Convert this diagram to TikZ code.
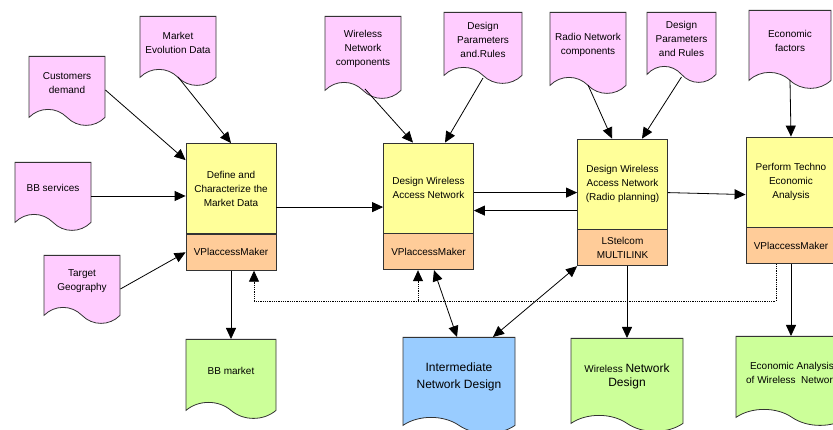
\documentclass[tikz,border=0pt]{standalone}
\usepackage{fontspec}
\setmainfont{Liberation Sans}
\usetikzlibrary{shapes.symbols}
\usetikzlibrary{arrows.meta}
\usetikzlibrary{positioning}
\usetikzlibrary{calc}
\definecolor{srcpink}{HTML}{FFCCFF}
\definecolor{procyellow}{HTML}{FFFF99}
\definecolor{toolorange}{HTML}{FFCC99}
\definecolor{resgreen}{HTML}{CCFF99}
\definecolor{resblue}{HTML}{99CCFF}
\begin{document}
\begin{tikzpicture}[x=1pt,y=1pt,font=\fontsize{10}{14}\selectfont]
\tikzstyle{source}=[
        draw=black!80,
        line width=0.8pt,
        fill=srcpink,
        tape,
        tape bend top=none,
        tape bend bottom=out and in,
        tape bend height=16pt,
        minimum width=76pt,
        align=center,
        inner sep=2pt,
        anchor=north
]
\tikzstyle{result}=[source,fill=resgreen,minimum width=112pt]
\tikzstyle{process}=[rectangle,draw=black!80,line width=0.8pt,fill=procyellow,
minimum width=90pt,minimum height=90pt,align=center,inner sep=2pt]
\tikzstyle{tool}=[rectangle,draw=black!80,line width=0.8pt,fill=toolorange,
minimum width=90pt,minimum height=36pt,align=center,inner sep=2pt]
%styles of the arrows
\tikzstyle{flow}=[-{Triangle[length=11pt,width=10pt]},line width=0.8pt]
\tikzstyle{both}=[{Triangle[length=11pt,width=10pt]}-{Triangle[length=11pt,width=10pt]},line width=0.8pt]
\tikzstyle{link}=[flow,densely dotted]
\useasboundingbox (0,0) rectangle (833,430);
\clip (0,0) rectangle (833,430);
%process boxes
\node[process] (define) at (231,241.5) {Define and\\Characterize the\\Market Data};
\node[tool,below=0pt of define] (definetool) {VPlaccessMaker};
\node[process] (wan) at (428.5,242) {Design Wireless\\Access Network};
\node[tool,below=0pt of wan] (wantool) {VPlaccessMaker};
\node[process] (radio) at (622.5,246) {Design Wireless\\Access Network\\(Radio planning)};
\node[tool,below=0pt of radio] (radiotool) {LStelcom\\MULTILINK};
\node[process] (techno) at (791,248) {Perform Techno\\Economic\\Analysis};
\node[tool,below=0pt of techno] (technotool) {VPlaccessMaker};
%input documents
\node[source,minimum height=69pt] (cust) at (67,374) {Customers\\demand};
\node[source,minimum height=69pt] (market) at (178,414) {Market\\Evolution Data};
\node[source,minimum height=68pt] (bbserv) at (53,268) {BB services};
\node[source,minimum height=68pt] (target) at (82,175) {Target\\Geography};
\node[source,minimum height=82pt] (wnc) at (363,414) {Wireless\\Network\\components};
\node[source,minimum height=71pt,minimum width=78pt] (dpra) at (483,418) {Design\\Parameters\\and.Rules};
\node[source,minimum height=81pt] (rnc) at (588,418) {Radio Network\\components};
\node[source,minimum height=70pt,minimum width=69pt] (dprb) at (681.5,418) {Design\\Parameters\\and Rules};
\node[source,minimum height=78pt,minimum width=82pt] (econ) at (790,420) {Economic\\factors};
%output documents
\node[result,minimum height=79pt,minimum width=90pt] (bbmarket) at (231,91) {BB market};
\node[result,minimum height=96pt,fill=resblue,font=\fontsize{12}{17}\selectfont] (inter) at (459,93) {Intermediate\\Network Design};
\node[result,minimum height=93pt] (wnd) at (627,92) {Wireless {\fontsize{12}{17}\selectfont Network}\\{\fontsize{12}{17}\selectfont Design}};
\node[result,minimum height=89pt] (econana) at (792,94) {Economic Analysis\\of Wireless\ \ Network};
%arrows
\draw[flow] ([yshift=-34pt]cust.north east) -- ([yshift=-17pt]define.north west);
\draw[flow] ([yshift=-61pt]market.north) -- (define.north);
\draw[flow] ([yshift=-34pt]bbserv.north east) -- ([yshift=-34pt]bbserv.north east -| define.west);
\draw[flow] ([yshift=-34pt]target.north east) -- (definetool.west);
\draw[flow] ([yshift=-64pt]define.north east) -- ([yshift=-64pt]define.north east -| wan.west);
\draw[flow] ([yshift=-50pt]wan.north east) -- ([yshift=-50pt]wan.north east -| radio.west);
\draw[flow] ([yshift=-72pt]radio.north west) -- ([yshift=-72pt]radio.north west -| wan.east);
\draw[flow] ([yshift=-54pt]radio.north east) -- ([yshift=-58pt]techno.north west);
\draw[flow] ([xshift=2pt,yshift=-73pt]wnc.north) -- ([xshift=-15.5pt]wan.north);
\draw[flow] ([yshift=-66pt]dpra.north) -- ([xshift=16.5pt]wan.north);
\draw[flow] ([yshift=-73pt]rnc.north) -- ([xshift=-10.5pt]radio.north);
\draw[flow] ([yshift=-65pt]dprb.north) -- ([xshift=19.5pt]radio.north);
\draw[flow] ([yshift=-70pt]econ.north) -- (techno.north);
\draw[flow] (definetool.south) -- (bbmarket.north);
\draw[flow] (wnd.north |- radiotool.south) -- (wnd.north);
\draw[flow] (technotool.south) -- (technotool.south |- econana.north);
\draw[both] ([xshift=5.5pt]wantool.south) -- ([xshift=-2pt]inter.north);
\draw[both] (radiotool.south west) -- ([xshift=34pt]inter.north);
%dotted feedback
\coordinate (dotturn) at ([xshift=-15pt,yshift=-37pt]technotool.south);
\draw[link] ([xshift=-15pt]technotool.south) -- (dotturn) -| ([xshift=23pt]definetool.south);
\draw[link] ([xshift=-10.5pt]wantool.south |- dotturn) -- ([xshift=-10.5pt]wantool.south);
\end{tikzpicture}
\end{document}
